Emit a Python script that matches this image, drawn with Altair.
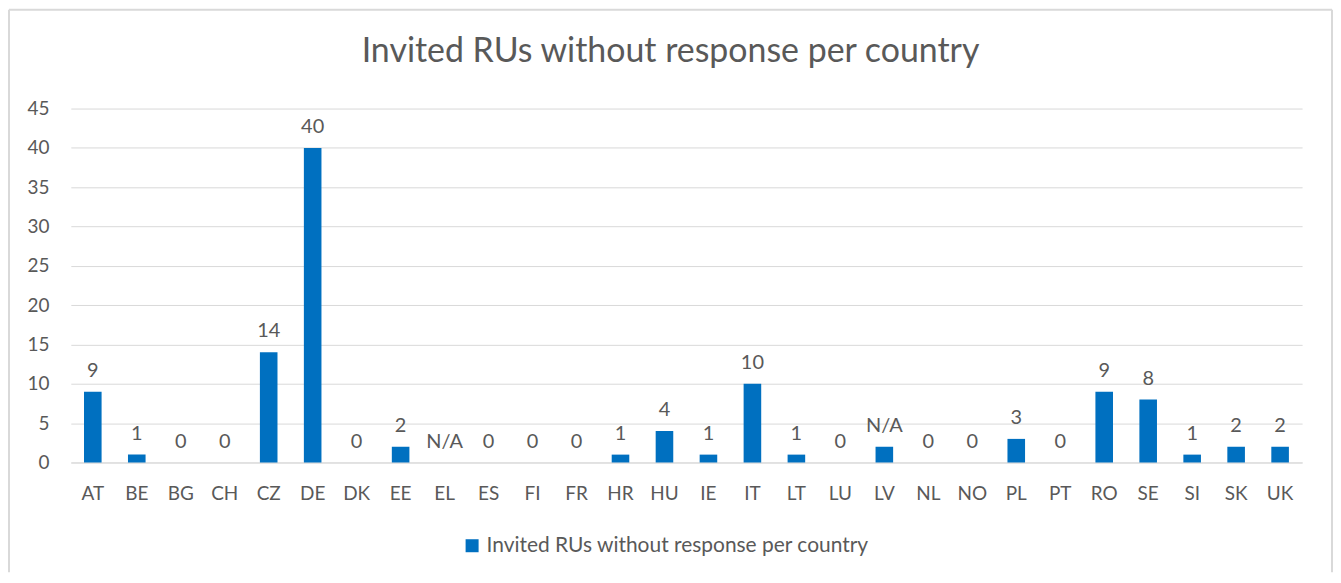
import altair as alt
import pandas as pd

countries = ["AT", "BE", "BG", "CH", "CZ", "DE", "DK", "EE", "EL", "ES", "FI", "FR", "HR", "HU",
             "IE", "IT", "LT", "LU", "LV", "NL", "NO", "PL", "PT", "RO", "SE", "SI", "SK", "UK"]
values = [9, 1, 0, 0, 14, 40, 0, 2, 0, 0, 0, 0, 1, 4, 1, 10, 1, 0, 2, 0, 0, 3, 0, 9, 8, 1, 2, 2]
labels = ["9", "1", "0", "0", "14", "40", "0", "2", "N/A", "0", "0", "0", "1", "4", "1", "10", "1",
          "0", "N/A", "0", "0", "3", "0", "9", "8", "1", "2", "2"]
series_name = "Invited RUs without response per country"

df = pd.DataFrame({"country": countries, "value": values, "label": labels, "series": series_name})

FONT = "Lato"
GRAY = "#595959"
W, H = 1235, 355

x = alt.X("country:N", sort=countries, title=None,
          scale=alt.Scale(paddingInner=0.6, paddingOuter=0.3),
          axis=alt.Axis(labelAngle=0, ticks=False, domainColor="#d9d9d9", labelFontSize=19,
                        labelColor=GRAY, labelFont=FONT, labelPadding=22, grid=False))
y = alt.Y("value:Q", title=None, scale=alt.Scale(domain=[0, 45]),
          axis=alt.Axis(values=list(range(0, 50, 5)), domain=False, ticks=False, gridColor="#d9d9d9",
                        labelFontSize=19, labelColor=GRAY, labelFont=FONT, labelPadding=22))

bars = alt.Chart(df).mark_bar(color="#0070C0").encode(
    x=x, y=y,
    color=alt.Color("series:N", scale=alt.Scale(range=["#0070C0"]),
                    legend=alt.Legend(title=None, orient="none", legendX=392, legendY=428,
                                      symbolType="square", symbolSize=170,
                                      labelFontSize=21, labelColor=GRAY, labelFont=FONT,
                                      symbolStrokeWidth=0, labelLimit=700, labelOffset=4))
)

text = alt.Chart(df).mark_text(dy=-11, baseline="bottom", fontSize=20, color=GRAY, font=FONT).encode(
    x=x, y=y, text="label:N"
)

one = alt.Data(values=[{}])
frame_style = dict(color="#d9d9d9", strokeWidth=2)
left_edge = alt.Chart(one).mark_rule(**frame_style).encode(
    x=alt.value(-62), y=alt.value(-99), y2=alt.value(465))
top_edge = alt.Chart(one).mark_rule(**frame_style).encode(
    x=alt.value(-62), x2=alt.value(1265), y=alt.value(-99))
right_edge = alt.Chart(one).mark_rule(**frame_style).encode(
    x=alt.value(1265), y=alt.value(-99), y2=alt.value(465))

chart = alt.layer(bars, text, left_edge, top_edge, right_edge).properties(
    width=W, height=H,
    padding={"left": 0, "right": 0, "top": 0, "bottom": 0},
    title=alt.TitleParams("Invited RUs without response per country", fontSize=34, font=FONT,
                          color=GRAY, fontWeight="normal", offset=-60, frame="bounds"),
).configure_view(stroke=None)

chart.save("out.html", embed_options={"renderer": "svg", "actions": False})
